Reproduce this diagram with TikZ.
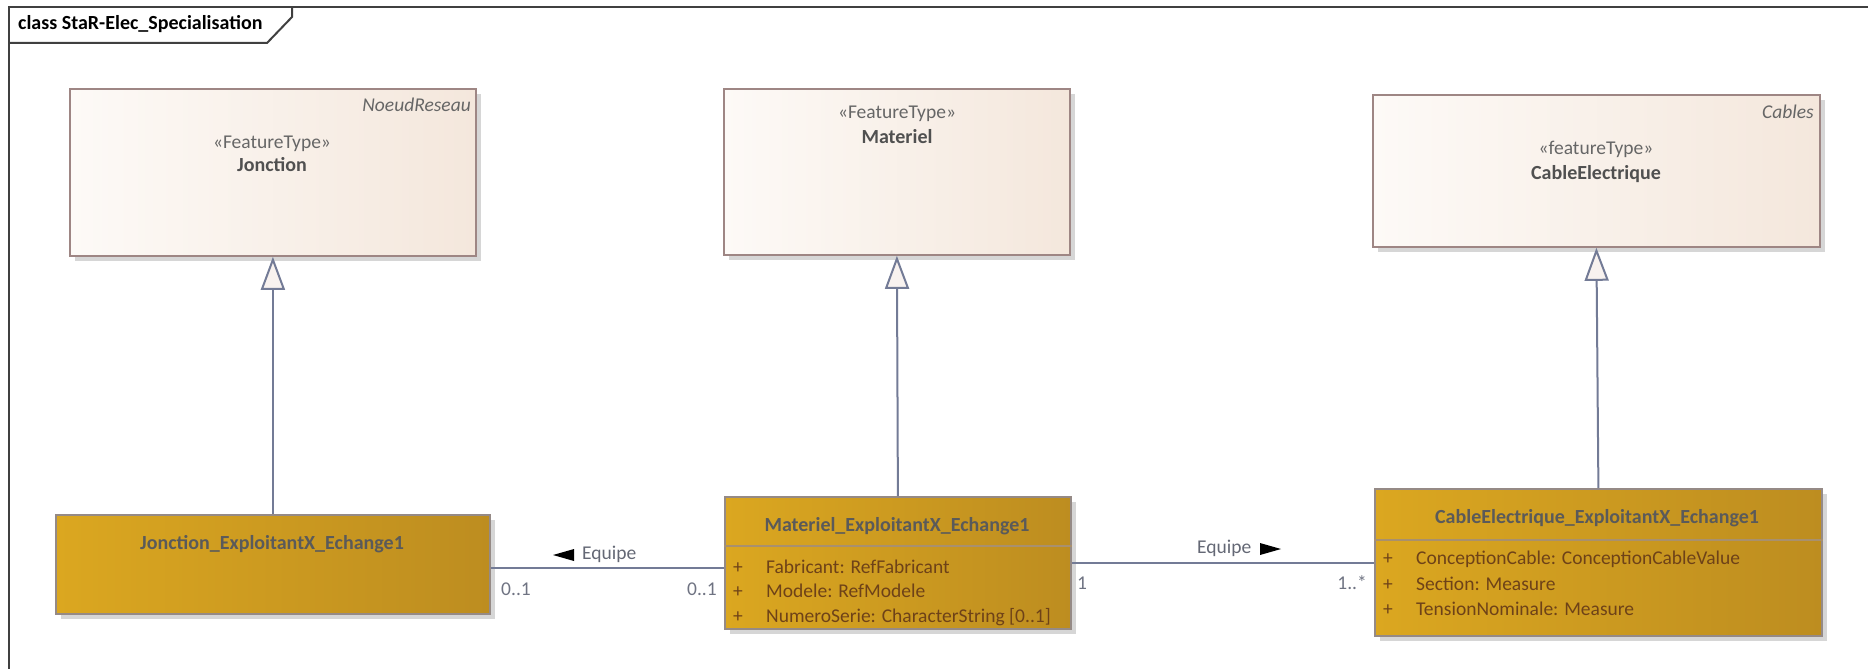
\documentclass[tikz,border=0pt]{standalone}
\usepackage{fontspec}
\setmainfont{Carlito}
\usetikzlibrary{arrows.meta,shadows}
\definecolor{topL}{HTML}{FDFAF7}
\definecolor{topR}{HTML}{F4E7DC}
\definecolor{topBorder}{HTML}{9E8684}
\definecolor{botL}{HTML}{DBA720}
\definecolor{botR}{HTML}{BD8D20}
\definecolor{botBorder}{HTML}{958A86}
\definecolor{sepCol}{HTML}{A8906E}
\definecolor{titleCol}{HTML}{5A5A5A}
\definecolor{attrCol}{HTML}{6E4218}
\definecolor{connCol}{HTML}{737B96}
\definecolor{triFill}{HTML}{F8F2EF}
\definecolor{multCol}{HTML}{6F7382}
\definecolor{stereoCol}{HTML}{666666}
\definecolor{nameCol}{HTML}{505050}
\definecolor{frameCol}{HTML}{404040}
\tikzset{
  txt/.style={inner sep=0pt, font=\fontsize{19.5}{23}\selectfont},
  bfont/.style={font=\fontsize{20}{24}\selectfont\bfseries},
  topbox/.style={draw=topBorder, line width=1.8pt, left color=topL, right color=topR, inner sep=0pt,
    drop shadow={shadow xshift=5pt, shadow yshift=-5pt, fill=black, opacity=0.16}},
  botbox/.style={draw=botBorder, line width=1.8pt, left color=botL, right color=botR, inner sep=0pt,
    drop shadow={shadow xshift=5pt, shadow yshift=-5pt, fill=black, opacity=0.16}},
  gen/.style={draw=connCol, line width=2pt, -{Triangle[width=24pt,length=33pt,fill=triFill]}},
  assoc/.style={draw=connCol, line width=2pt},
  stereo/.style={txt, text=stereoCol},
  cname/.style={txt, text=nameCol, bfont},
  pkg/.style={txt, text=stereoCol, font=\fontsize{19.5}{23}\selectfont\itshape},
  btitle/.style={txt, text=titleCol, bfont},
  attr/.style={txt, text=attrCol},
  mult/.style={txt, text=multCol},
  rolelbl/.style={txt, text=multCol!90!black},
  dirarrow/.style={fill=black, draw=none}
}
\begin{document}
\begin{tikzpicture}[x=1pt,y=-1pt]
\useasboundingbox (0,0) rectangle (1868,669);
% frame
\draw[frameCol, line width=2pt] (9,669) -- (9,7) -- (1868,7);
\draw[frameCol, line width=2pt] (9,43) -- (267,43) -- (292,17) -- (292,7);
\node[txt, anchor=base west, bfont, text=black] (title) at (18,30) {class StaR-Elec\_Specialisation};

% top boxes
\node[topbox, anchor=north west, minimum width=406pt, minimum height=167pt] (jon) at (69,88) {};
\node[topbox, anchor=north west, minimum width=346pt, minimum height=166pt] (mat) at (723,88) {};
\node[topbox, anchor=north west, minimum width=447pt, minimum height=152pt] (cab) at (1372,94) {};

\node[pkg, anchor=base east] (jonpkg) at (471,111) {NoeudReseau};
\node[stereo, anchor=base] (jonst) at (272,148) {«FeatureType»};
\node[cname, anchor=base] (jonnm) at (272,171) {Jonction};

\node[stereo, anchor=base] (matst) at (897,118) {«FeatureType»};
\node[cname, anchor=base] (matnm) at (897,143) {Materiel};

\node[pkg, anchor=base east] (cabpkg) at (1814,118) {Cables};
\node[stereo, anchor=base] (cabst) at (1596,154) {«featureType»};
\node[cname, anchor=base] (cabnm) at (1596,179) {CableElectrique};

% bottom boxes
\node[botbox, anchor=north west, minimum width=434pt, minimum height=99pt] (jonE) at (55,514) {};
\node[botbox, anchor=north west, minimum width=346pt, minimum height=132pt] (matE) at (724,496) {};
\node[botbox, anchor=north west, minimum width=447pt, minimum height=147pt] (cabE) at (1374,488) {};

\draw[sepCol, line width=1.5pt] (matE.west |- 0,546) -- (matE.east |- 0,546);
\draw[sepCol, line width=1.5pt] (cabE.west |- 0,540) -- (cabE.east |- 0,540);

\node[btitle, anchor=base] (jonEt) at (272,549) {Jonction\_ExploitantX\_Echange1};
\node[btitle, anchor=base] (matEt) at (897,531) {Materiel\_ExploitantX\_Echange1};
\node[btitle, anchor=base] (cabEt) at (1597,523) {CableElectrique\_ExploitantX\_Echange1};

\node[attr, anchor=base] (mp1) at (738,573) {+};
\node[attr, anchor=base] (mp2) at (738,597) {+};
\node[attr, anchor=base] (mp3) at (738,622) {+};
\node[attr, anchor=base west] (ma1) at (766,573) {Fabricant: RefFabricant};
\node[attr, anchor=base west] (ma2) at (766,597) {Modele: RefModele};
\node[attr, anchor=base west] (ma3) at (766,622) {NumeroSerie: CharacterString [0..1]};

\node[attr, anchor=base] (cp1) at (1388,564) {+};
\node[attr, anchor=base] (cp2) at (1388,590) {+};
\node[attr, anchor=base] (cp3) at (1388,615) {+};
\node[attr, anchor=base west] (ca1) at (1416,564) {ConceptionCable: ConceptionCableValue};
\node[attr, anchor=base west] (ca2) at (1416,590) {Section: Measure};
\node[attr, anchor=base west] (ca3) at (1416,615) {TensionNominale: Measure};

% generalizations
\draw[gen] (jonE.north) -- (jon.south);
\draw[gen] (matE.north) -- (mat.south);
\draw[gen] (cabE.north) -- (cab.south);

% associations
\coordinate (a1) at (0,568);
\draw[assoc] (jonE.east |- a1) -- (matE.west |- a1);
\coordinate (a2) at (0,563);
\draw[assoc] (matE.east |- a2) -- (cabE.west |- a2);

\fill[dirarrow] (553,555) -- (574,549) -- (574,561) -- cycle;
\node[rolelbl, anchor=base west] (eq1) at (582,559) {Equipe};
\node[mult, anchor=base west] (m1) at (501,595) {0..1};
\node[mult, anchor=base east] (m2) at (717,595) {0..1};

\node[rolelbl, anchor=base west] (eq2) at (1197,553) {Equipe};
\fill[dirarrow] (1281,549) -- (1260,543) -- (1260,555) -- cycle;
\node[mult, anchor=base west] (m3) at (1077,589) {1};
\node[mult, anchor=base east] (m4) at (1367,589) {1..*};
\end{tikzpicture}
\end{document}
